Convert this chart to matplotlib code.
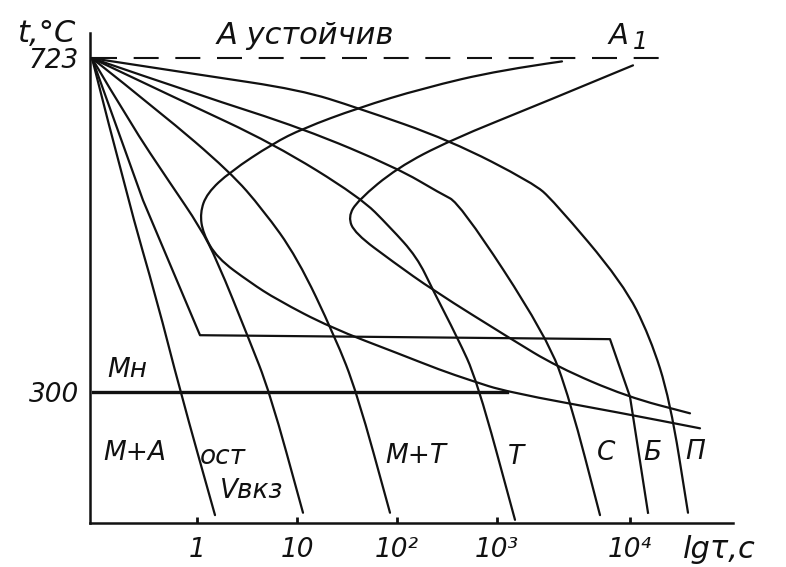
import matplotlib.pyplot as plt
from matplotlib.path import Path
from matplotlib.patches import PathPatch

# critical points, °C
t_a1 = 723
t_mn = 300

# x is lg(tau), tau in s; y is temperature, °C
x_ticks = [0, 1, 2, 3, 4.33]
x_labels = ['1', '10', '10²', '10³', '10⁴']

# start of decomposition (left C-curve)
start_lg = [3.65, 3.03, 2.26, 1.61, 1.06, 0.76, 0.33, 0.10, 0.03, 0.06, 0.20,
            0.53, 0.80, 1.33, 2.03, 2.43, 2.73, 3.10, 4.26, 5.03]
start_t = [719, 708, 685, 660, 634, 615, 579, 552, 527, 501, 470,
           439, 417, 382, 348, 328, 315, 300, 273, 254]

# end of decomposition (right C-curve)
finish_lg = [4.36, 3.43, 2.53, 2.00, 1.61, 1.51, 1.58, 1.96, 2.36, 3.13, 3.60, 4.30, 4.93]
finish_t = [714, 665, 619, 584, 543, 522, 501, 465, 429, 368, 332, 294, 273]

# cooling curves, all from A1
ma_lg = [-1.05, -0.69, -0.40, -0.17, 0.18]
ma_t = [723, 543, 416, 302, 144]

vkr_lg = [-1.05, -0.67, -0.27, 0.03, 0.20, 0.51, 0.73, 1.06]
vkr_t = [723, 641, 565, 509, 467, 370, 299, 147]

mt_lg = [-1.05, -0.37, 0.33, 0.66, 1.00, 1.38, 1.60, 1.93]
mt_t = [723, 655, 579, 531, 471, 370, 299, 147]

tr_lg = [-1.05, -0.17, 0.76, 1.63, 1.93, 2.20, 2.36, 2.60, 2.80, 3.18]
tr_t = [723, 670, 615, 547, 509, 471, 429, 370, 315, 138]

s_lg = [-1.05, 0.03, 1.06, 2.00, 2.43, 2.63, 3.50, 3.73, 4.03]
s_t = [723, 676, 634, 584, 552, 539, 370, 290, 144]

p_lg = [-1.05, 0.03, 1.03, 1.61, 2.53, 3.36, 3.56, 4.26, 4.53, 4.73, 4.91]
p_t = [723, 702, 683, 660, 619, 565, 543, 438, 370, 290, 147]

# isothermal hold in the bainite range
b_lg = [-1.05, -0.54, 0.03, 4.13, 4.33, 4.51]
b_t = [723, 543, 372, 367, 294, 147]

ink = '#111111'


def smooth(xs, ys):
    # quadratic bezier through the midpoints, the points act as control points
    pts = list(zip(xs, ys))
    verts, codes = [pts[0]], [Path.MOVETO]
    for i in range(1, len(pts) - 1):
        mid = ((pts[i][0] + pts[i + 1][0]) / 2, (pts[i][1] + pts[i + 1][1]) / 2)
        verts += [pts[i], mid]
        codes += [Path.CURVE3, Path.CURVE3]
    verts.append(pts[-1])
    codes.append(Path.LINETO)
    return PathPatch(Path(verts, codes), fill=False, edgecolor=ink, lw=1.6,
                     capstyle='round', joinstyle='round')


plt.rcParams['font.family'] = ['DejaVu Sans']
fig = plt.figure(figsize=(7.86, 5.67), dpi=100)
ax = fig.add_axes([90 / 786, 44 / 567, 643 / 786, 490 / 567])

for xs, ys in [(start_lg, start_t), (finish_lg, finish_t), (ma_lg, ma_t),
               (vkr_lg, vkr_t), (mt_lg, mt_t), (tr_lg, tr_t), (s_lg, s_t),
               (p_lg, p_t)]:
    ax.add_patch(smooth(xs, ys))
ax.plot(b_lg, b_t, color=ink, lw=1.6, solid_joinstyle='round')

ax.plot([-1.05, 4.73], [t_a1, t_a1], color=ink, lw=1.5, dashes=(12, 8))
ax.plot([-1.04, 3.10], [t_mn, t_mn], color=ink, lw=2.4)

ax.set_xlim(-1.07, 5.36)
ax.set_ylim(134, 755)
for side in ['top', 'right']:
    ax.spines[side].set_visible(False)
for side in ['left', 'bottom']:
    ax.spines[side].set_linewidth(1.8)
    ax.spines[side].set_color(ink)

ax.set_xticks(x_ticks)
ax.set_xticklabels(x_labels, fontsize=19, style='italic')
ax.set_yticks([t_a1, t_mn])
ax.set_yticklabels([str(t_a1), str(t_mn)], fontsize=19, style='italic')
ax.tick_params(axis='x', direction='in', length=4, width=2, pad=10, colors=ink)
ax.tick_params(axis='y', length=0, pad=8, colors=ink)

lab = dict(fontsize=19, style='italic', color=ink, va='center', ha='left', clip_on=False)
ax.text(0.20, 752, 'А устойчив', **dict(lab, fontsize=22))
ax.text(4.12, 751, 'А', **dict(lab, fontsize=21))
ax.text(4.36, 743, '1', **dict(lab, fontsize=17))
ax.text(-0.90, 328, 'Мн', **lab)
ax.text(-0.94, 223, 'М+А', **lab)
ax.text(0.03, 218, 'ост', **lab)
ax.text(0.23, 175, 'Vвкз', **lab)
ax.text(1.88, 219, 'М+Т', **lab)
ax.text(3.11, 218, 'Т', **lab)
ax.text(4.00, 223, 'С', **lab)
ax.text(4.46, 223, 'Б', **lab)
ax.text(4.88, 224, 'П', **lab)
ax.text(4.86, 100, 'lgτ,c', **dict(lab, fontsize=22))
fig.text(17 / 786, 1 - 33 / 567, 't,°C', fontsize=22, style='italic', color=ink, va='center')

fig.savefig('out.png', dpi=100)
